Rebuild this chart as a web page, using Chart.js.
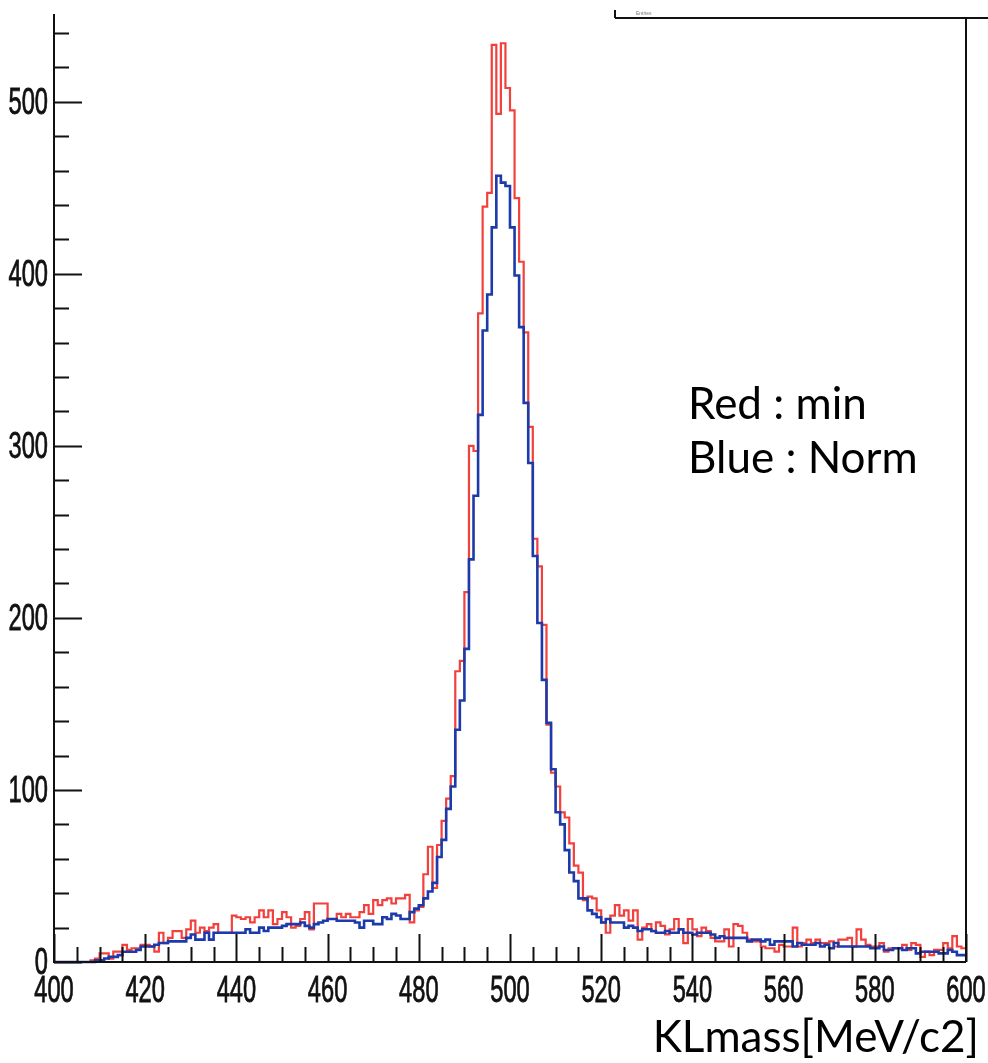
<!DOCTYPE html>
<html>
<head>
<meta charset="utf-8">
<script src="https://cdn.jsdelivr.net/npm/chart.js@4.4.1/dist/chart.umd.min.js"></script>
<style>
  body { margin: 0; background: #fff; }
  #wrap { position: relative; width: 988px; height: 1063px; }
</style>
</head>
<body>
<div id="wrap"><canvas id="hist" width="988" height="1063"></canvas></div>
<script>
// histogram range, 1 MeV bins
const xMin = 400;
const xMax = 600;
const binWidth = 1;

// counts per bin, 400..599 (red = min)
const redCounts = [
  0, 0, 0, 0, 0, 0, 0, 0, 1, 2,
  5, 5, 2, 6, 6, 10, 7, 8, 8, 10,
  10, 9, 6, 17, 11, 14, 18, 18, 14, 19,
  24, 17, 20, 18, 20, 22, 17, 17, 17, 27,
  26, 25, 26, 23, 26, 30, 26, 30, 22, 25,
  29, 26, 20, 21, 25, 29, 19, 34, 34, 34,
  25, 25, 28, 26, 28, 26, 26, 29, 33, 28,
  36, 33, 36, 37, 34, 37, 37, 39, 23, 30,
  32, 51, 67, 43, 68, 82, 95, 108, 169, 175,
  215, 300, 297, 377, 439, 447, 533, 493, 534, 508,
  495, 444, 407, 366, 311, 246, 230, 196, 138, 110,
  102, 87, 84, 69, 56, 52, 36, 38, 37, 30,
  23, 17, 27, 33, 27, 30, 24, 30, 13, 20,
  22, 18, 23, 21, 16, 19, 25, 19, 11, 25,
  19, 15, 20, 18, 14, 12, 12, 19, 9, 22,
  21, 17, 13, 12, 12, 9, 8, 8, 6, 10,
  9, 9, 20, 9, 11, 13, 11, 13, 11, 11,
  12, 9, 13, 13, 14, 9, 19, 13, 10, 9,
  9, 11, 6, 8, 8, 8, 10, 7, 11, 10,
  3, 6, 4, 7, 7, 11, 8, 15, 9, 8
];

// counts per bin, 400..599 (blue = Norm)
const blueCounts = [
  0, 0, 0, 0, 0, 0, 0, 0, 0, 1,
  1, 2, 3, 3, 4, 6, 6, 6, 7, 9,
  9, 9, 10, 11, 11, 12, 12, 12, 12, 14,
  16, 13, 13, 17, 13, 17, 17, 17, 17, 17,
  17, 17, 19, 17, 17, 20, 18, 20, 20, 20,
  21, 22, 22, 22, 23, 21, 20, 22, 23, 24,
  25, 25, 24, 24, 24, 24, 23, 20, 24, 24,
  22, 22, 26, 25, 28, 27, 25, 25, 29, 31,
  33, 37, 41, 46, 61, 71, 89, 102, 135, 152,
  182, 234, 271, 318, 367, 388, 427, 457, 453, 451,
  427, 399, 369, 325, 290, 236, 197, 164, 139, 112,
  87, 80, 65, 52, 47, 37, 37, 30, 28, 26,
  23, 25, 23, 23, 23, 20, 21, 20, 18, 19,
  19, 18, 17, 17, 18, 17, 17, 19, 17, 17,
  16, 17, 17, 17, 16, 14, 15, 14, 14, 14,
  14, 14, 12, 13, 13, 12, 13, 10, 12, 12,
  12, 12, 9, 11, 10, 10, 10, 11, 9, 10,
  8, 11, 9, 9, 9, 9, 9, 9, 9, 8,
  8, 9, 7, 7, 8, 8, 7, 8, 8, 5,
  6, 6, 6, 6, 5, 5, 7, 6, 4, 4
];

const xTickLabels = ['400', '420', '440', '460', '480', '500', '520', '540', '560', '580', '600'];
const yTickLabels = ['0', '100', '200', '300', '400', '500'];
const legendLines = ['Red : min', 'Blue : Norm'];
const xTitle = 'KLmass[MeV/c2]';

// bin centres with "middle" steps so the jumps land on the bin edges
const toSteps = (counts) => {
  const pts = [{ x: xMin, y: counts[0] }];
  counts.forEach((c, i) => pts.push({ x: xMin + (i + 0.5) * binWidth, y: c }));
  pts.push({ x: xMax, y: counts[counts.length - 1] });
  return pts;
};

const ink = '#111111';

// ROOT style frame, inward ticks and squashed labels
const rootFrame = {
  id: 'rootFrame',
  afterDraw(chart) {
    const ctx = chart.ctx;
    const xs = chart.scales.x;
    const ys = chart.scales.y;
    const a = chart.chartArea;
    ctx.save();
    ctx.strokeStyle = ink;
    ctx.lineWidth = 2;

    ctx.beginPath();
    ctx.moveTo(a.left, a.top);
    ctx.lineTo(a.left, a.bottom);
    ctx.lineTo(a.right, a.bottom);
    ctx.moveTo(a.right, 18);
    ctx.lineTo(a.right, a.bottom);
    // bottom edge of the stats box cut off at the top
    ctx.moveTo(615, 18);
    ctx.lineTo(988, 18);
    ctx.moveTo(615, 10);
    ctx.lineTo(615, 18);
    ctx.stroke();

    // y ticks every 20, long every 100
    ctx.beginPath();
    for (let v = 0; v <= ys.max; v += 20) {
      const py = Math.round(ys.getPixelForValue(v)) + 0.5;
      const len = v % 100 === 0 ? 28 : 15;
      ctx.moveTo(a.left, py);
      ctx.lineTo(a.left + len, py);
    }
    // x ticks every 5, long every 20
    for (let m = xMin; m <= xMax; m += 5) {
      const px = Math.round(xs.getPixelForValue(m)) + 0.5;
      const len = m % 20 === 0 ? 28 : 15;
      ctx.moveTo(px, a.bottom);
      ctx.lineTo(px, a.bottom - len);
    }
    ctx.stroke();

    ctx.fillStyle = ink;
    ctx.strokeStyle = ink;
    ctx.lineWidth = 0.8;
    ctx.font = '37px "Liberation Sans", Arial, sans-serif';
    const sx = 0.64;
    yTickLabels.forEach((t) => {
      const py = ys.getPixelForValue(Number(t));
      ctx.save();
      ctx.translate(a.left - 6, py);
      ctx.scale(sx, 1);
      ctx.textAlign = 'right';
      ctx.textBaseline = 'middle';
      ctx.fillText(t, 0, 2);
      ctx.strokeText(t, 0, 2);
      ctx.restore();
    });
    xTickLabels.forEach((t) => {
      const px = xs.getPixelForValue(Number(t));
      ctx.save();
      ctx.translate(px, 1002);
      ctx.scale(sx, 1);
      ctx.textAlign = 'center';
      ctx.textBaseline = 'alphabetic';
      ctx.fillText(t, 0, 0);
      ctx.strokeText(t, 0, 0);
      ctx.restore();
    });

    ctx.font = '5px sans-serif';
    ctx.fillStyle = '#777';
    ctx.textAlign = 'left';
    ctx.fillText('Entries', 636, 15);

    // annotation text
    ctx.fillStyle = '#000';
    ctx.font = '44px Lato, "Open Sans", sans-serif';
    ctx.textAlign = 'left';
    ctx.textBaseline = 'alphabetic';
    ctx.fillText(legendLines[0], 688, 419);
    ctx.fillText(legendLines[1], 688, 473);
    ctx.textAlign = 'right';
    ctx.fillText(xTitle, 979, 1052);
    ctx.restore();
  }
};

new Chart(document.getElementById('hist'), {
  type: 'line',
  plugins: [rootFrame],
  data: {
    datasets: [
      {
        label: 'Norm',
        data: toSteps(blueCounts),
        borderColor: '#1c3aa9',
        borderWidth: 2.6,
        stepped: 'middle',
        pointRadius: 0,
        clip: false
      },
      {
        label: 'min',
        data: toSteps(redCounts),
        borderColor: '#f2403c',
        borderWidth: 2.2,
        stepped: 'middle',
        pointRadius: 0,
        clip: false
      }
    ]
  },
  options: {
    responsive: false,
    animation: false,
    events: [],
    layout: { padding: { left: 54, right: 22, top: 14, bottom: 101 } },
    plugins: { legend: { display: false }, tooltip: { enabled: false } },
    scales: {
      x: { type: 'linear', min: xMin, max: xMax, display: false },
      y: { type: 'linear', min: 0, max: 551, display: false }
    }
  }
});
</script>
</body>
</html>
